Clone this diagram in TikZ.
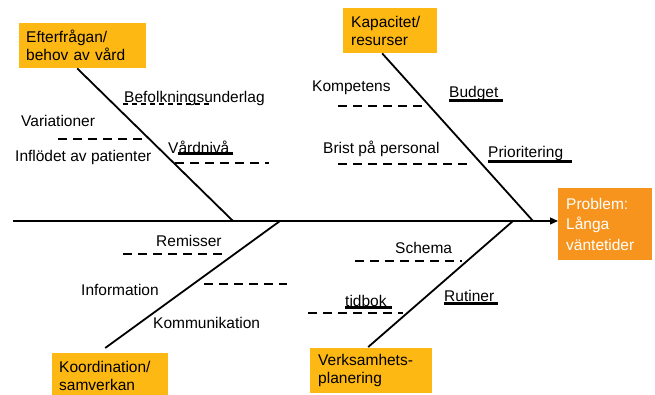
\documentclass[tikz,border=0pt]{standalone}
\usepackage{fontspec}
\setmainfont{Liberation Sans}
\usetikzlibrary{arrows.meta}
\definecolor{causeyellow}{RGB}{253,184,19}
\definecolor{problemorange}{RGB}{247,148,30}

\begin{document}
\begin{tikzpicture}[x=1pt,y=-1pt,
        every node/.style={inner sep=0pt},
        box/.style={fill=causeyellow,anchor=north west,inner xsep=7pt,minimum height=45pt,align=left,font=\fontsize{15.5}{18}\selectfont},
        problem/.style={fill=problemorange,text=white,anchor=north west,inner xsep=8pt,minimum height=72pt,align=left,font=\fontsize{15.5}{20.5}\selectfont},
        lbl/.style={anchor=west,font=\fontsize{15.5}{18}\selectfont},
        bone/.style={black,line width=1.8pt},
        spine/.style={black,line width=1.2pt},
        rib/.style={black,line width=1.8pt,dash pattern=on 9pt off 6pt},
        dul/.style={black,line width=1.3pt,dash pattern=on 5pt off 4pt},
        ul/.style={black,line width=3pt}]
        \useasboundingbox (0,0) rectangle (655,395);
        \node [box,text width=113pt] (efter) at (19,23) {Efterfrågan/\\behov av vård};
        \node [box,text width=78pt,inner xsep=8pt] (kapa) at (343,8) {Kapacitet/\\resurser};
        \node [box,text width=102pt] (koord) at (52,353) {Koordination/\\samverkan};
        \node [box,text width=106pt,inner xsep=8pt] (verks) at (310,348) {Verksamhets-\\planering};
        \node [problem,text width=78pt] (prob) at (558,188) {Problem:\\Långa\\väntetider};
        \coordinate (tail) at (13,221);
        \coordinate (j1) at (233,221);
        \coordinate (j2) at (533,221);
        \coordinate (j3) at (280,221);
        \coordinate (j4) at (513,221);
        \draw [spine,-{Triangle[length=8pt,width=7pt]}] (tail) -- (prob.west |- tail);
        \draw [bone] ([xshift=-5.5pt]efter.south) -- (j1);
        \draw [bone] ([xshift=-8pt]kapa.south) -- (j2);
        \draw [bone] ([xshift=-5pt,yshift=5pt]koord.north) -- (j3);
        \draw [bone] ([xshift=-3pt,yshift=1pt]verks.north) -- (j4);
        \node [lbl] (befolk) at (124,98) {Befolkningsunderlag};
        \node [lbl] (variat) at (21,121) {Variationer};
        \node [lbl] (inflod) at (15,157) {Inflödet av patienter};
        \node [lbl] (vardn) at (168,147) {Vårdnivå};
        \node [lbl] (kompet) at (312,88) {Kompetens};
        \node [lbl] (budget) at (449,93) {Budget};
        \node [lbl] (brist) at (323,149) {Brist på personal};
        \node [lbl] (priori) at (488,153) {Prioritering};
        \node [lbl] (remiss) at (156,241) {Remisser};
        \node [lbl] (inform) at (81,290) {Information};
        \node [lbl] (kommun) at (153,323) {Kommunikation};
        \node [lbl] (schema) at (395,248) {Schema};
        \node [lbl] (tidbok) at (345,301) {tidbok};
        \node [lbl] (rutin) at (444,296) {Rutiner};
        \draw [dul] (123,104) -- (210,104);
        \draw [rib] (58,139) -- (148,139);
        \draw [rib] (175,163) -- (269,163);
        \draw [rib] (338,106) -- (428,106);
        \draw [rib] (338,164) -- (468,164);
        \draw [rib] (123,254) -- (223,254);
        \draw [rib] (204,284) -- (287,284);
        \draw [rib] (355,261) -- (462,261);
        \draw [rib] (308,313) -- (403,313);
        \draw [ul] (178,154) -- (233,154);
        \draw [ul] (449,101) -- (503,101);
        \draw [ul] (488,162) -- (572,162);
        \draw [ul] (345,307) -- (392,307);
        \draw [ul] (444,303) -- (498,303);
\end{tikzpicture}
\end{document}
